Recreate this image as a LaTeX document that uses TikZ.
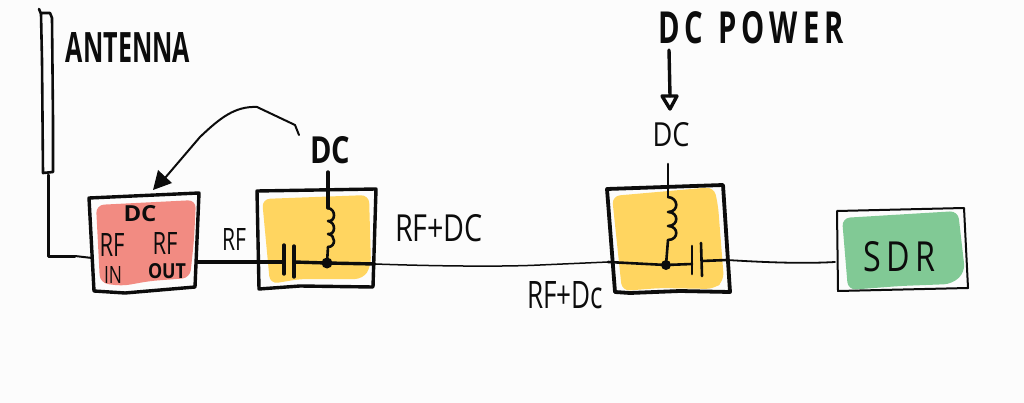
\documentclass[tikz,border=0pt]{standalone}
\usepackage{fontspec}
\usepackage{graphicx}
\setmainfont{Open Sans}
\usetikzlibrary{arrows.meta}
\newcommand{\hand}[3]{\resizebox{#1pt}{#2pt}{#3}}
\definecolor{paper}{HTML}{FCFCFC}
\definecolor{redfill}{HTML}{F28B82}
\definecolor{yellowfill}{HTML}{FFD560}
\definecolor{greenfill}{HTML}{81C995}
\definecolor{ink}{HTML}{0C0C0C}
\tikzset{
  label text/.style={inner sep=0pt,text=ink},
  heavy/.style={draw=ink,line width=3.4pt,line cap=round,line join=round},
  medium/.style={draw=ink,line width=2.6pt,line cap=round,line join=round},
  thin wire/.style={draw=ink,line width=1.5pt,line cap=round,line join=round},
  patch/.style={rounded corners=8pt,draw=none},
}
\begin{document}
\begin{tikzpicture}[x=1pt,y=-1pt]
\useasboundingbox (0,0) rectangle (1024,403);
\fill[paper] (0,0) rectangle (1024,403);
% colour patches
\fill[patch,redfill] (96,205) -- (196,200) -- (194,240) -- (190,278) -- (150,281) -- (122,286) -- (100,283) -- cycle;
\fill[patch,yellowfill] (262,199) -- (369,195) -- (371,266) -- (363,279) -- (300,279) -- (270,284) -- cycle;
\fill[patch,yellowfill] (612,196) -- (714,187) -- (718,205) -- (724,281) -- (714,289) -- (660,288) -- (622,291) -- cycle;
\fill[patch,greenfill] (842,218) -- (958,211) -- (965,272) -- (952,284) -- (900,286) -- (848,290) -- cycle;
% boxes
\draw[heavy] (89,198) -- (199,193) -- (195,287) -- (125,293) -- (94,291) -- cycle;
\draw[heavy] (257,191) -- (376,189) -- (373,287) -- (300,286) -- (259,289) -- cycle;
\draw[heavy,line width=3.8pt] (607,189) -- (723,185) -- (730,292) -- (680,291) -- (630,293) -- (615,292) -- cycle;
\draw[medium,line width=2pt] (837,211) -- (964,208) -- (968,288) -- (838,291) -- cycle;
% antenna
\draw[medium] (39,9) -- (41,14) -- (42,60) -- (43,173) -- (53,172) -- (53,120) -- (52,18) -- (50,13) -- (41,13);
% named anchors
\coordinate (antbase) at (48,175);
\coordinate (antcorner) at (48,256);
\coordinate (redin) at (92,258);
\coordinate (redout) at (197,262);
\coordinate (capA) at (284,262);
\coordinate (capB) at (294,262);
\coordinate (junA) at (327,263);
\coordinate (yellowAout) at (375,264);
\coordinate (yellowBin) at (608,262);
\coordinate (junB) at (666,265);
\coordinate (capC) at (692,264);
\coordinate (capD) at (702,261);
\coordinate (yellowBout) at (727,260);
\coordinate (sdrin) at (835,262);
\coordinate (topA) at (328,172);
\coordinate (topB) at (668,164);
\coordinate (coilAt) at (328,208);
\coordinate (coilAb) at (328,247);
\coordinate (coilBt) at (668,197);
\coordinate (coilBb) at (668,240);
\coordinate (arrowTop) at (669,50);
\coordinate (arrowTip) at (670,109);
\coordinate (curveS) at (299,135);
\coordinate (curveE) at (165,178);
% wires
\draw[medium,line width=3pt] (antbase) -- (48,230) -- (antcorner) -- (75,256);
\draw[medium,line width=2pt] (75,256) -- (redin);
\draw[heavy] (redout) -- (capA);
\draw[heavy] (capB) -- (junA) -- (yellowAout);
\draw[thin wire] (yellowAout) .. controls (430,266) and (500,267) .. (540,265) -- (yellowBin);
\draw[medium] (yellowBin) -- (junB) -- (capC);
\draw[medium] (capD) -- (yellowBout);
\draw[thin wire,line width=1.8pt] (yellowBout) .. controls (760,262) and (800,264) .. (sdrin);
% capacitor plates
\draw[heavy] (284,245) -- (284,274);
\draw[heavy] (294,246) -- (294,277);
\draw[medium] (692,246) -- (692,274);
\draw[medium] (701,243) -- (702,276);
% inductors
\draw[heavy] (topA) -- (coilAt);
\draw[medium] (coilAt) .. controls (336,209) and (336,222) .. (328,221)
  .. controls (336,222) and (336,235) .. (328,234)
  .. controls (336,235) and (336,247) .. (coilAb);
\draw[medium] (coilAb) -- (junA);
\draw[medium] (topB) -- (coilBt);
\draw[medium] (coilBt) .. controls (679,198) and (679,212) .. (668,212)
  .. controls (679,212) and (679,226) .. (668,226)
  .. controls (679,226) and (679,240) .. (coilBb);
\draw[medium] (coilBb) -- (junB);
\fill[ink] (junA) circle (5.5pt);
\fill[ink] (junB) circle (5pt);
% DC power arrow
\draw[heavy] (arrowTop) -- (670,96);
\draw[heavy] (662,96) -- (677,96) -- (arrowTip) -- cycle;
% curved arrow
\draw[thin wire,line width=2pt] (curveS) -- (295,125) -- (257,107) .. controls (235,106) and (220,118) .. (200,137) -- (curveE);
\fill[ink] (153,190) -- (158,170) -- (172,183) -- cycle;
% labels
\node[label text] (antenna) at (128,48) {\hand{124}{30}{\bfseries ANTENNA}};
\node[label text] (dcA) at (330,150) {\hand{40}{27}{\bfseries DC}};
\node[label text] (dcRed) at (140,214) {\hand{33}{16}{\bfseries DC}};
\node[label text] (rfIn) at (112,245) {\hand{25}{23}{RF}};
\node[label text] (rfOut) at (165,243) {\hand{25}{22}{RF}};
\node[label text] (inL) at (113,275) {\hand{18}{17}{IN}};
\node[label text] (outL) at (167,271) {\hand{38}{15}{\bfseries OUT}};
\node[label text] (rfMid) at (234,239) {\hand{24}{22}{RF}};
\node[label text] (rfdc) at (439,228) {\hand{88}{27}{RF+DC}};
\node[label text] (rfdcLow) at (565,295) {\hand{76}{27}{RF+Dc}};
\node[label text] (dcB) at (671,135) {\hand{37}{24}{DC}};
\node[label text] (dcpower) at (751,28) {\hand{185}{32}{\bfseries D\,C\ \ P\,O\,W\,E\,R}};
\node[label text] (sdr) at (899,257) {\hand{72}{30}{S\,D\,R}};
\end{tikzpicture}
\end{document}
